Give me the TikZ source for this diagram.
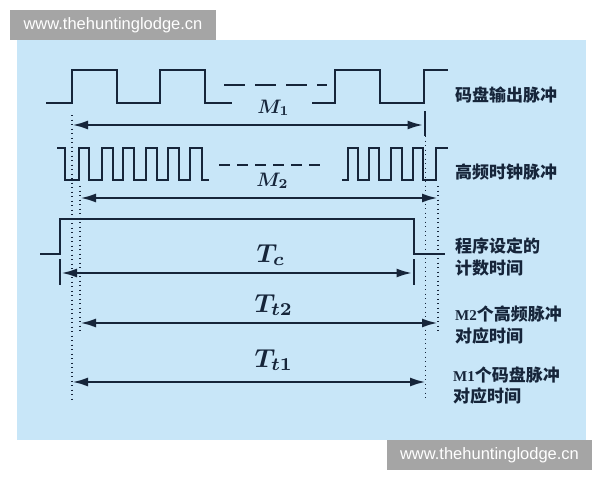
\documentclass[tikz,border=0pt]{standalone}
\usepackage{fontspec}
\usetikzlibrary{arrows.meta}
\newfontfamily\cjk{Noto Sans CJK SC}
\newfontfamily\wm{Liberation Sans}
\newfontfamily\mser{Liberation Serif}
\definecolor{panel}{HTML}{C8E6F8}
\definecolor{ink}{HTML}{16253A}
\definecolor{wmgray}{HTML}{A5A5A5}
\begin{document}
\begin{tikzpicture}[x=1pt,y=-1pt,
  wave/.style={ink, line width=2.7pt, line join=miter},
  dashline/.style={ink, line width=2.7pt},
  dotline/.style={ink, line width=1.4pt, dash pattern=on 1.2pt off 3.3pt},
  dimarrow/.style={ink, line width=2.6pt, {Latex[length=16pt,width=9pt]}-{Latex[length=16pt,width=9pt]}},
  tickline/.style={ink, line width=2pt},
  lbl/.style={anchor=west, inner sep=0pt, text=ink, font=\cjk\bfseries\fontsize{17}{20}\selectfont},
  mlbl/.style={anchor=base west, inner sep=0pt, text=ink, scale=1.95, font=\boldmath},
  tlbl/.style={anchor=base west, inner sep=0pt, text=ink, scale=2.6, font=\boldmath},
  pre/.style={},
  wmtext/.style={text=white, inner sep=0pt, font=\wm\fontsize{16.5}{18}\selectfont}
]
\useasboundingbox (0,0) rectangle (600,480);
\fill[white] (0,0) rectangle (600,480);
% panel
\fill[panel] (17,40) rectangle (586,440);
% watermarks
\fill[wmgray] (10,10) rectangle (216,40);
\node[wmtext] (wmtop) at (113,25.5) {www.thehuntinglodge.cn};
\fill[wmgray] (387,440) rectangle (592,470);
\node[wmtext] (wmbot) at (489.5,455.5) {www.thehuntinglodge.cn};

% row 1: encoder output pulses
\draw[wave] (46,103) -- (72,103) -- (72,70) -- (117,70) -- (117,103) -- (160,103) -- (160,70) -- (205,70) -- (205,103) -- (232,103);
\draw[dashline, dash pattern=on 21pt off 10pt] (224,85) -- (327,85);
\draw[wave] (312,103) -- (335,103) -- (335,70) -- (380,70) -- (380,103) -- (424,103) -- (424,70) -- (448,70);

% row 2: high-frequency clock
\draw[wave] (57,148) -- (65,148) -- (65,180) -- (79,180) -- (79,148) -- (89,148) -- (89,180) -- (102,180) -- (102,148) -- (113,148) -- (113,180) -- (123,180) -- (123,148) -- (134,148) -- (134,180) -- (146,180) -- (146,148) -- (157,148) -- (157,180) -- (168,180) -- (168,148) -- (179,148) -- (179,180) -- (190,180) -- (190,148) -- (202,148) -- (202,180) -- (209,180);
\draw[dashline, dash pattern=on 11pt off 7pt] (219,165) -- (322,165);
\draw[wave] (342,180) -- (348,180) -- (348,148) -- (358,148) -- (358,180) -- (369,180) -- (369,148) -- (379,148) -- (379,180) -- (391,180) -- (391,148) -- (402,148) -- (402,180) -- (413,180) -- (413,148) -- (423,148) -- (423,180) -- (436,180) -- (436,148) -- (448,148);

% row 3: counting window
\draw[wave] (40,254) -- (60,254) -- (60,219) -- (414,219) -- (414,254) -- (445,254);

% dotted guide lines
\draw[dotline] (72,115) -- (72,399);
\draw[dotline] (80,186) -- (80,332);
\draw[dotline] (425.5,136) -- (425.5,398);
\draw[dotline] (438,186) -- (438,332);

% ticks
\draw[tickline] (424.5,111) -- (424.5,136);
\draw[tickline] (60,259) -- (60,285);
\draw[tickline] (413.5,259) -- (413.5,285);

% dimension arrows
\coordinate (m1l) at (72,125);  \coordinate (m1r) at (423.5,125);
\coordinate (m2l) at (80,198);  \coordinate (m2r) at (438,198);
\coordinate (tcl) at (61,273);  \coordinate (tcr) at (412.5,273);
\coordinate (t2l) at (80,323);  \coordinate (t2r) at (438,323);
\coordinate (t1l) at (72,382);  \coordinate (t1r) at (426,382);
\draw[dimarrow] (m1l) -- (m1r);
\draw[dimarrow] (m2l) -- (m2r);
\draw[dimarrow] (tcl) -- (tcr);
\draw[dimarrow] (t2l) -- (t2r);
\draw[dimarrow] (t1l) -- (t1r);

% symbol labels
\node[mlbl] (lm1) at (257,113) {$M_1$};
\node[mlbl] (lm2) at (256,186) {$M_2$};
\node[tlbl] (ltc) at (256,262) {$T_c$};
\node[tlbl] (lt2) at (254,312) {$T_{t2}$};
\node[tlbl] (lt1) at (254,367) {$T_{t1}$};

% right-hand labels
\node[lbl] (r1) at (455,95) {码盘输出脉冲};
\node[lbl] (r2) at (455,172) {高频时钟脉冲};
\node[lbl] (r3a) at (455,246) {程序设定的};
\node[lbl] (r3b) at (455,268) {计数时间};
\node[lbl] (r4a) at (455,314) {{\mser\bfseries\fontsize{15}{15}\selectfont M2}个高频脉冲};
\node[lbl] (r4b) at (455,336) {对应时间};
\node[lbl] (r5a) at (453,375) {{\mser\bfseries\fontsize{15}{15}\selectfont M1}个码盘脉冲};
\node[lbl] (r5b) at (453,396) {对应时间};
\end{tikzpicture}
\end{document}
